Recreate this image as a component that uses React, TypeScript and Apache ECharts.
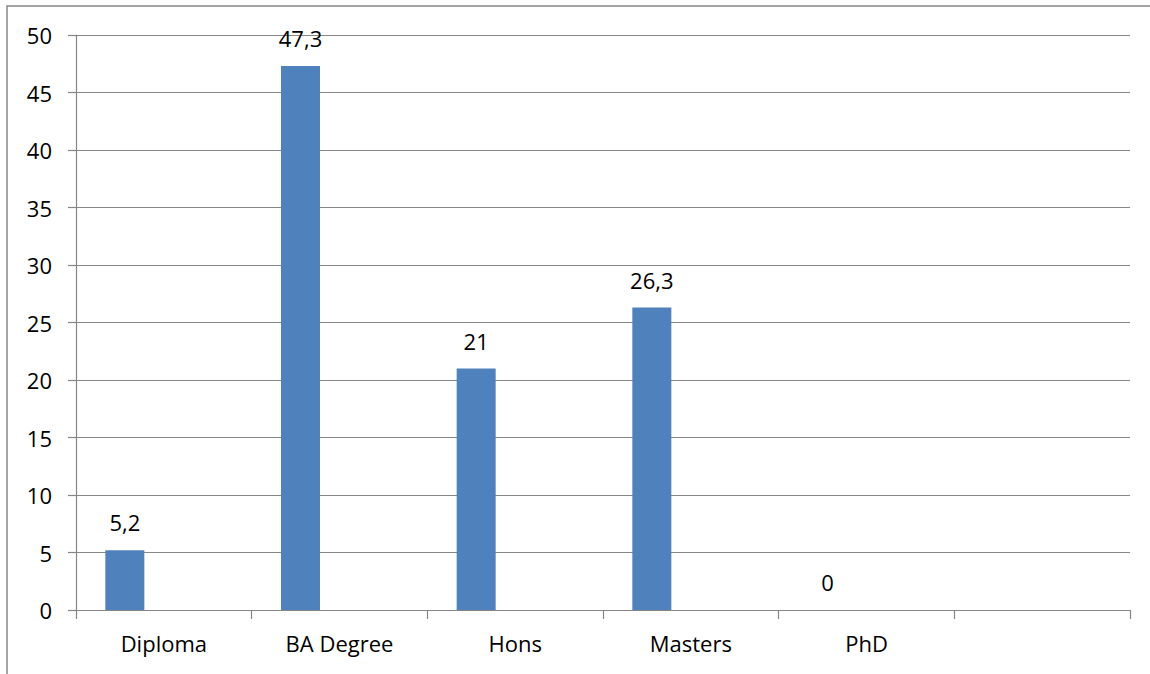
import React, { useEffect, useRef } from "react";
import * as echarts from "echarts";

const categories: string[] = ["Diploma", "BA Degree", "Hons", "Masters", "PhD", ""];
const values: (number | null)[] = [5.2, 47.3, 21, 26.3, 0];
const emptySeriesA: (number | null)[] = [];
const emptySeriesB: (number | null)[] = [];
const yMin = 0;
const yMax = 50;
const yInterval = 5;

const FONT = "'Open Sans', 'Noto Sans', sans-serif";
const GRID_COLOR = "#868686";

export default function App() {
  const ref = useRef<HTMLDivElement>(null);
  useEffect(() => {
    if (!ref.current) return;
    const chart = echarts.init(ref.current, undefined, { renderer: "svg" });
    chart.setOption({
      animation: false,
      backgroundColor: "#ffffff",
      graphic: [
        {
          type: "rect",
          shape: { x: 7, y: 6, width: 1200, height: 720 },
          style: { fill: "none", stroke: GRID_COLOR, lineWidth: 1.5 },
          silent: true,
          z: -1,
        },
      ],
      grid: { left: 76, top: 35, width: 1054, height: 575, containLabel: false },
      xAxis: {
        type: "category",
        data: categories,
        boundaryGap: true,
        axisLine: { show: true, lineStyle: { color: GRID_COLOR, width: 1.2 } },
        axisTick: { show: true, length: 9, alignWithLabel: false, lineStyle: { color: GRID_COLOR, width: 1.2 } },
        axisLabel: { color: "#000", fontFamily: FONT, fontSize: 22, margin: 22, interval: 0 },
        splitLine: { show: false },
      },
      yAxis: {
        type: "value",
        min: yMin,
        max: yMax,
        interval: yInterval,
        axisLine: { show: true, lineStyle: { color: GRID_COLOR, width: 1.2 } },
        axisTick: { show: true, length: 8, inside: false, lineStyle: { color: GRID_COLOR, width: 1.2 } },
        axisLabel: { color: "#000", fontFamily: FONT, fontSize: 22, margin: 24 },
        splitLine: { show: true, lineStyle: { color: GRID_COLOR, width: 1.2 } },
      },
      series: [
        {
          type: "bar",
          data: values,
          barWidth: 39,
          barGap: "0%",
          itemStyle: { color: "#4F81BD" },
          label: {
            show: true,
            position: "top",
            distance: 17,
            color: "#000",
            fontFamily: FONT,
            fontSize: 22,
            formatter: (p: any) => String(p.value).replace(".", ","),
          },
        },
        { type: "bar", data: emptySeriesA, barWidth: 39, barGap: "0%", itemStyle: { color: "#C0504D" } },
        { type: "bar", data: emptySeriesB, barWidth: 39, barGap: "0%", itemStyle: { color: "#9BBB59" } },
      ],
    });
    return () => chart.dispose();
  }, []);
  return (
    <div
      ref={ref}
      style={{ position: "fixed", left: 0, top: 0, width: 1150, height: 674, background: "#fff" }}
    />
  );
}
